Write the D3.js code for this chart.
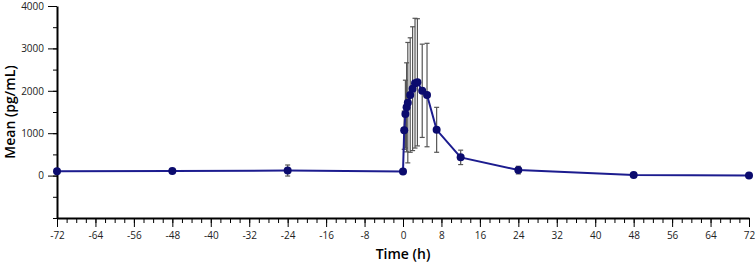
<!DOCTYPE html>
<html>
<head>
<meta charset="utf-8">
<script src="https://cdn.jsdelivr.net/npm/d3@7"></script>
<style>
  body { margin: 0; background: #fff; }
  text { font-family: "Open Sans", "DejaVu Sans", sans-serif; }
</style>
</head>
<body>
<div id="chart"></div>
<script>
// Data
const times = [-72, -48, -24, 0, 0.25, 0.5, 0.75, 1, 1.5, 2, 2.5, 3, 4, 5, 7, 12, 24, 48, 72];
const means = [100, 110, 120, 95, 1070, 1450, 1610, 1720, 1900, 2050, 2180, 2200, 2000, 1900, 1080, 430, 130, 15, 5];
const sds   = [0, 0, 130, 0, 450, 800, 1050, 1420, 1350, 1460, 1530, 1500, 1100, 1220, 530, 170, 90, 0, 0];

const xTicks = [-72, -64, -56, -48, -40, -32, -24, -16, -8, 0, 8, 16, 24, 32, 40, 48, 56, 64, 72];
const yTicks = [0, 1000, 2000, 3000, 4000];

const width = 755, height = 264;
const margin = { top: 6, right: 6, bottom: 46, left: 57 };

const svg = d3.select("#chart")
    .append("svg")
    .attr("width", width)
    .attr("height", height);

const x = d3.scaleLinear()
    .domain([-72, 72])
    .range([margin.left, width - margin.right]);

const y = d3.scaleLinear()
    .domain([-1000, 4000])
    .range([height - margin.bottom, margin.top]);

const data = times.map((t, i) => ({ t: t, m: means[i], sd: sds[i] }));

// Minor ticks every 2 h / 500 pg/mL
const xMinor = d3.range(-72, 73, 2);
const yMinor = d3.range(-1000, 4001, 500);

// X axis minor
svg.append("g")
    .attr("transform", `translate(0,${y(-1000)})`)
    .call(d3.axisBottom(x).tickValues(xMinor).tickSize(5).tickSizeOuter(0).tickFormat(""))
    .call(g => g.select(".domain").remove());

// X axis major (plain hyphen for negatives, like the reference)
const xAxis = svg.append("g")
    .attr("transform", `translate(0,${y(-1000)})`)
    .call(d3.axisBottom(x).tickValues(xTicks).tickSize(9).tickSizeOuter(0).tickPadding(5).tickFormat(d => String(d)));
xAxis.select(".domain").attr("stroke-width", 2);
xAxis.selectAll("text").attr("font-size", 10).attr("fill", "#222");

// Y axis minor
svg.append("g")
    .attr("transform", `translate(${x(-72)},0)`)
    .call(d3.axisLeft(y).tickValues(yMinor).tickSize(4).tickSizeOuter(0).tickFormat(""))
    .call(g => g.select(".domain").remove());

// Y axis major
const yAxis = svg.append("g")
    .attr("transform", `translate(${x(-72)},0)`)
    .call(d3.axisLeft(y).tickValues(yTicks).tickSize(9).tickSizeOuter(0).tickPadding(4).tickFormat(d => String(d)));
yAxis.select(".domain").attr("stroke-width", 2);
yAxis.selectAll("text").attr("font-size", 10).attr("fill", "#222");

// Axis labels
svg.append("text")
    .attr("x", x(0))
    .attr("y", 259)
    .attr("text-anchor", "middle")
    .attr("font-size", 14)
    .attr("font-weight", 600)
    .text("Time (h)");

svg.append("text")
    .attr("transform", `translate(15,${(y(-1000) + y(4000)) / 2}) rotate(-90)`)
    .attr("text-anchor", "middle")
    .attr("font-size", 14)
    .attr("font-weight", 600)
    .text("Mean (pg/mL)");

// Error bars
const errs = svg.append("g")
    .attr("stroke", "#555")
    .attr("stroke-width", 1.2);

data.filter(d => d.sd > 0).forEach(d => {
    const cx = x(d.t);
    errs.append("line")
        .attr("x1", cx).attr("x2", cx)
        .attr("y1", y(d.m - d.sd)).attr("y2", y(d.m + d.sd));
    [d.m - d.sd, d.m + d.sd].forEach(v => {
        errs.append("line")
            .attr("x1", cx - 2.5).attr("x2", cx + 2.5)
            .attr("y1", y(v)).attr("y2", y(v));
    });
});

// Line
svg.append("path")
    .datum(data)
    .attr("fill", "none")
    .attr("stroke", "#1c1c8f")
    .attr("stroke-width", 2)
    .attr("d", d3.line().x(d => x(d.t)).y(d => y(d.m)));

// Points
svg.append("g")
    .selectAll("circle")
    .data(data)
    .join("circle")
    .attr("cx", d => x(d.t))
    .attr("cy", d => y(d.m))
    .attr("r", 4)
    .attr("fill", "#0b0b6e");
</script>
</body>
</html>
